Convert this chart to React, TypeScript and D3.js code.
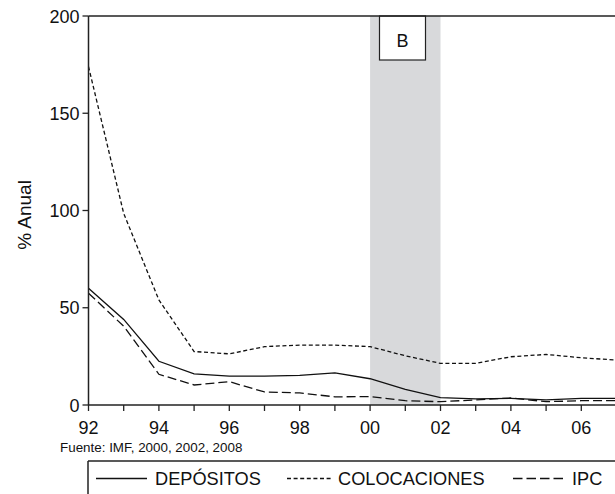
import React from "react";
import * as d3 from "d3";

const years = [1992, 1993, 1994, 1995, 1996, 1997, 1998, 1999, 2000, 2001, 2002, 2003, 2004, 2005, 2006, 2007];
const depositos = [60, 44, 22.5, 16, 14.8, 14.8, 15.2, 16.5, 13.5, 8, 3.8, 3.1, 3.4, 2.6, 3.4, 3.4];
const colocaciones = [174, 98.5, 54, 27.5, 26.3, 30, 30.8, 30.8, 30, 25.3, 21.4, 21.4, 24.8, 26, 24.3, 23.1];
const ipc = [57.5, 40.5, 15.8, 10.3, 12, 6.7, 6.2, 4.2, 4.3, 2.2, 1.7, 2.6, 3.6, 1.7, 2.2, 2.2];
const yTicks = [0, 50, 100, 150, 200];
const xLabelYears = [1992, 1994, 1996, 1998, 2000, 2002, 2004, 2006];
const shadeRange = [2000, 2002];
const legendLabels = ["DEPÓSITOS", "COLOCACIONES", "IPC"];

const FONT = "'Liberation Sans', Arial, Helvetica, sans-serif";

export default function App() {
  const x = d3.scaleLinear().domain([1992, 2007]).range([88.5, 616.5]);
  const y = d3.scaleLinear().domain([0, 200]).range([405, 16]);
  const line = (vals: number[]) =>
    d3.line<number>().x((_, i) => x(years[i])).y((d) => y(d)).curve(d3.curveLinear)(vals) || "";

  const series = [
    { vals: depositos, dash: "none" },
    { vals: colocaciones, dash: "4,2.6" },
    { vals: ipc, dash: "9,4" },
  ];

  const fmt = (yr: number) => String(yr % 100).padStart(2, "0");

  return (
    <svg width={615} height={494} style={{ position: "absolute", left: 0, top: 0, background: "#fff" }} fontFamily={FONT}>
      <rect x={0} y={0} width={615} height={494} fill="#fff" />
      {/* shaded band */}
      <rect x={x(shadeRange[0])} y={y(200)} width={x(shadeRange[1]) - x(shadeRange[0])} height={y(0) - y(200)} fill="#d8d9db" />
      {/* B box */}
      <rect x={379.5} y={y(200)} width={46} height={44} fill="#fff" stroke="#222" strokeWidth={1.2} />
      <text x={402.5} y={47} textAnchor="middle" fontSize={18} fill="#111">B</text>

      {/* series */}
      {series.map((s, i) => (
        <path key={i} d={line(s.vals)} fill="none" stroke="#111" strokeWidth={1.3} strokeDasharray={s.dash} />
      ))}

      {/* frame */}
      <line x1={x(1992)} x2={615} y1={y(200)} y2={y(200)} stroke="#222" strokeWidth={1.5} />
      <line x1={x(1992)} x2={x(1992)} y1={y(200)} y2={y(0)} stroke="#222" strokeWidth={1.5} />
      <line x1={x(1992)} x2={615} y1={y(0)} y2={y(0)} stroke="#222" strokeWidth={1.5} />

      {/* y ticks */}
      {yTicks.map((t) => (
        <g key={t}>
          <line x1={x(1992) - 6} x2={x(1992)} y1={y(t)} y2={y(t)} stroke="#222" strokeWidth={1.3} />
          <text x={x(1992) - 9} y={y(t) + 6.5} textAnchor="end" fontSize={18} fill="#111">{t}</text>
        </g>
      ))}

      {/* x ticks */}
      {years.map((yr) => (
        <line key={yr} x1={x(yr)} x2={x(yr)} y1={y(0)} y2={y(0) + 6} stroke="#222" strokeWidth={1.3} />
      ))}
      {xLabelYears.map((yr) => (
        <text key={yr} x={x(yr)} y={434} textAnchor="middle" fontSize={18} fill="#111">{fmt(yr)}</text>
      ))}

      {/* axis label */}
      <text transform={`translate(31,215) rotate(-90)`} textAnchor="middle" fontSize={19} fill="#111">% Anual</text>

      {/* source */}
      <text x={60} y={451.5} fontSize={13.4} fill="#111">Fuente: IMF, 2000, 2002, 2008</text>

      {/* legend */}
      <line x1={88} x2={615} y1={461} y2={461} stroke="#222" strokeWidth={1.5} />
      <line x1={88} x2={88} y1={461} y2={494} stroke="#222" strokeWidth={1.5} />
      <line x1={96} x2={147} y1={478.5} y2={478.5} stroke="#111" strokeWidth={1.3} />
      <text x={155} y={485} fontSize={18.2} fill="#111">{legendLabels[0]}</text>
      <line x1={287} x2={331} y1={478.5} y2={478.5} stroke="#111" strokeWidth={1.3} strokeDasharray="4,2.6" />
      <text x={338} y={485} fontSize={18.2} fill="#111">{legendLabels[1]}</text>
      <line x1={513} x2={564} y1={478.5} y2={478.5} stroke="#111" strokeWidth={1.3} strokeDasharray="9.5,4" />
      <text x={572} y={485} fontSize={18.2} fill="#111">{legendLabels[2]}</text>
    </svg>
  );
}
